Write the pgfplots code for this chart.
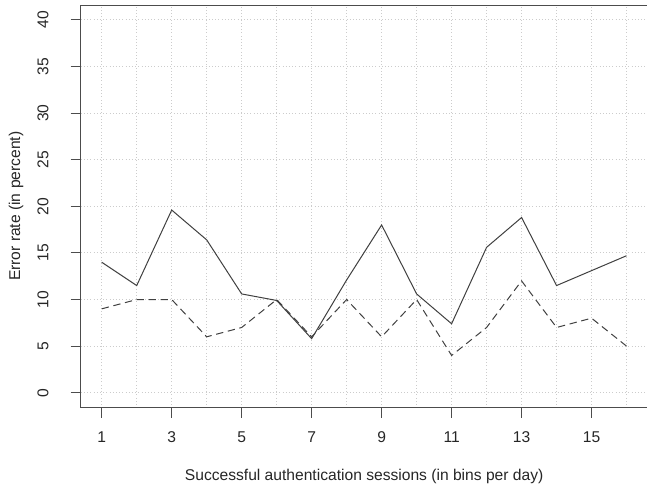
\documentclass[border=0pt]{standalone}
\usepackage{fontspec}
\setmainfont{Liberation Sans}
\usepackage{pgfplots}
\pgfplotsset{compat=1.18}
\begin{document}
\fontsize{11.7}{14}\selectfont
\begin{tikzpicture}
\begin{axis}[
  at={(0,0)}, anchor=south west,
  scale only axis,
  width=424.7pt, height=301.7pt,
  xmin=0.4, xmax=16.6, ymin=-1.6, ymax=41.6,
  xtick={1,3,...,15}, minor xtick={2,4,...,16},
  ytick={0,5,...,40},
  xtick pos=bottom, ytick pos=left,
  grid=both,
  major grid style={black!20, dotted, line width=0.7pt},
  minor grid style={black!20, dotted, line width=0.7pt},
  tick align=outside,
  major tick length=7.5pt, minor tick length=0pt,
  tick style={black!70, line width=0.75pt},
  axis line style={black!70, line width=0.75pt},
  /pgf/number format/assume math mode=true,
  xticklabel style={anchor=center, yshift=-14.8pt, text=black!85, font=\fontsize{11.7}{14}\selectfont},
  yticklabel style={xshift=-20.8pt, rotate=90, anchor=center, text=black!85, font=\fontsize{11.7}{14}\selectfont},
  every axis x label/.style={at={(axis description cs:0.5,0)}, anchor=center, yshift=-51.5pt, text=black!85, font=\fontsize{11.7}{14}\selectfont},
  every axis y label/.style={at={(axis description cs:0,0.5)}, xshift=-48.5pt, rotate=90, anchor=center, text=black!85, font=\fontsize{11.7}{14}\selectfont},
  xlabel={Successful authentication sessions (in bins per day)},
  ylabel={Error rate (in percent)},
]
\addplot[black!75, line width=0.75pt] coordinates {
(1,14) (2,11.5) (3,19.6) (4,16.4) (5,10.6) (6,9.9) (7,5.8) (8,12.1)
(9,18.0) (10,10.6) (11,7.4) (12,15.6) (13,18.8) (14,11.5) (15,13.1) (16,14.7)};
\addplot[black!75, line width=0.75pt, dash pattern=on 5.5pt off 3.5pt] coordinates {
(1,9) (2,10) (3,10) (4,6) (5,7) (6,10) (7,6) (8,10)
(9,6) (10,10) (11,4) (12,7) (13,12) (14,7) (15,8) (16,5)};
\end{axis}
\pgfresetboundingbox
\useasboundingbox (-60.5pt,-59pt) rectangle (424.3pt,305.45pt);
\end{tikzpicture}
\end{document}
